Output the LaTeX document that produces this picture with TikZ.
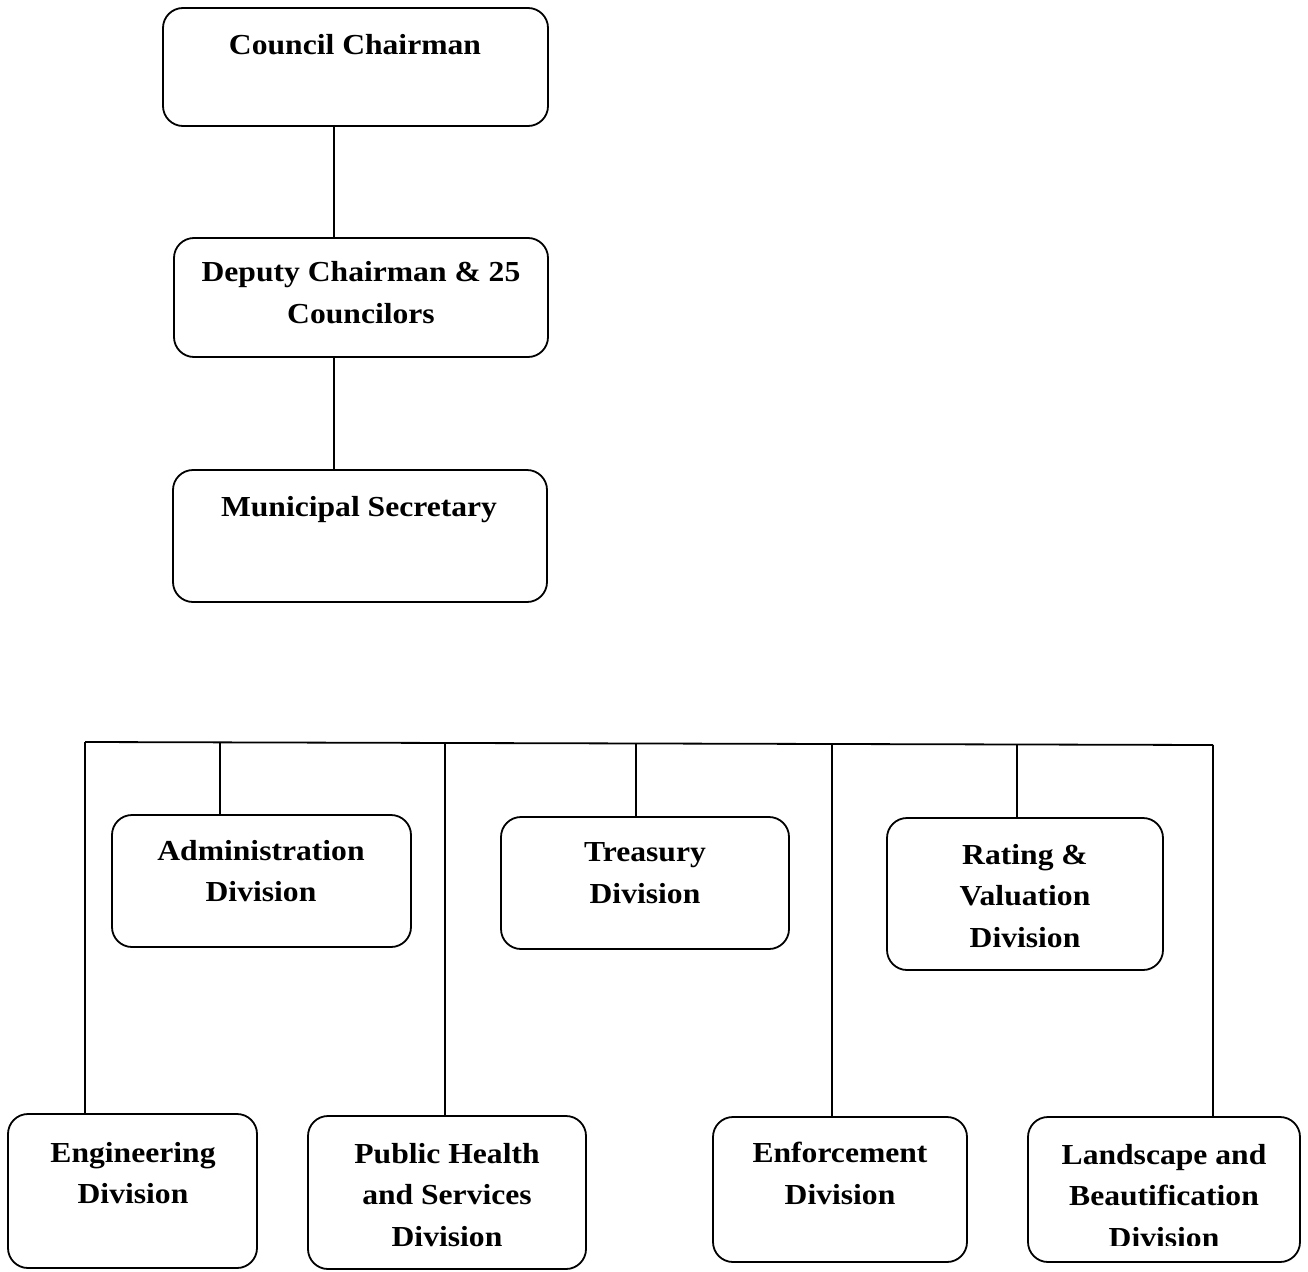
\documentclass[tikz,border=0pt]{standalone}
\usepackage{fontspec}
\setmainfont{Liberation Serif}[BoldFeatures={FakeStretch=1.09}]
\usetikzlibrary{calc}
\begin{document}
\begin{tikzpicture}[x=1pt,y=-1pt,
  box/.style={draw, line width=1.8pt, rounded corners=20pt, inner sep=0pt},
  lbl/.style={font=\bfseries\fontsize{29}{41.5}\selectfont, align=center, inner sep=0pt},
  wire/.style={line width=1.8pt}]
\useasboundingbox (0,0) rectangle (1308,1271);

% upper chain
\node[box, minimum width=385pt, minimum height=118pt] (cc)  at (355.5,67)  {};
\node[box, minimum width=374pt, minimum height=119pt] (dep) at (361,297.5) {};
\node[box, minimum width=374pt, minimum height=132pt] (sec) at (360,536)   {};
\node[lbl] (ccT)  at (355,45)    {Council Chairman};
\node[lbl] (depT) at (361,292.5) {Deputy Chairman \& 25\\Councilors};
\node[lbl] (secT) at (359,510)   {Municipal Secretary};

\coordinate (spine) at (334,0);
\draw[wire] (spine |- cc.south)  -- (spine |- dep.north);
\draw[wire] (spine |- dep.south) -- (spine |- sec.north);

% divisions
\node[box, minimum width=299pt, minimum height=132pt] (adm) at (261.5,881)  {};
\node[box, minimum width=288pt, minimum height=132pt] (tre) at (645,883)    {};
\node[box, minimum width=276pt, minimum height=152pt] (rat) at (1025,894)   {};
\node[box, minimum width=249pt, minimum height=154pt] (eng) at (132.5,1191) {};
\node[box, minimum width=278pt, minimum height=153pt] (pub) at (447,1192.5) {};
\node[box, minimum width=254pt, minimum height=145pt] (enf) at (840,1189.5) {};
\node[box, minimum width=272pt, minimum height=145pt] (lan) at (1164,1189.5) {};

\node[lbl] (admT) at (261,871)    {Administration\\Division};
\node[lbl] (treT) at (645,873)    {Treasury\\Division};
\node[lbl] (ratT) at (1025,896)   {Rating \&\\Valuation\\Division};
\node[lbl] (engT) at (133,1173)   {Engineering\\Division};
\node[lbl] (pubT) at (447,1195)   {Public Health\\and Services\\Division};
\node[lbl] (enfT) at (840,1173.5) {Enforcement\\Division};
\begin{scope}
  \clip (lan.north west) rectangle (1300,1245);
  \node[lbl] (lanT) at (1164,1196) {Landscape and\\Beautification\\Division};
\end{scope}

% bus bar and drops
\coordinate (bL) at (85,742);
\coordinate (bR) at (1213,745);
\draw[wire] (bL) -- (bR);
\foreach \x/\tgt in {85/eng, 220/adm, 445/pub, 636/tre, 832/enf, 1017/rat, 1213/lan}{
  \coordinate (d\tgt) at ($(bL)!{(\x-85)/1128}!(bR)$);
  \draw[wire] (d\tgt) -- (d\tgt |- \tgt.north);
}
\end{tikzpicture}
\end{document}
